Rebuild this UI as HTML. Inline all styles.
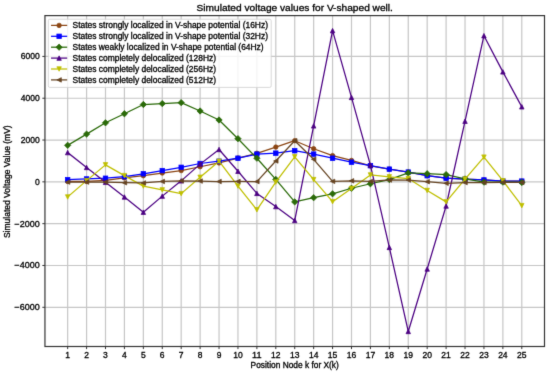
<!DOCTYPE html><html><head><meta charset="utf-8"><style>html,body{margin:0;padding:0;background:#fff;overflow:hidden}svg{display:block}text{font-family:"Liberation Sans",sans-serif;fill:#000}</style></head><body>
<svg width="550" height="373" viewBox="0 0 550 373">
<defs><filter id="bl" x="0" y="0" width="100%" height="100%" color-interpolation-filters="sRGB"><feConvolveMatrix order="3" kernelMatrix="0.0100 0.0800 0.0100 0.0800 0.6400 0.0800 0.0100 0.0800 0.0100" divisor="1" edgeMode="duplicate"/></filter></defs><g filter="url(#bl)">
<rect width="550" height="373" fill="#fff"/>
<path d="M67.66,15.60V346.50M86.58,15.60V346.50M105.50,15.60V346.50M124.42,15.60V346.50M143.35,15.60V346.50M162.27,15.60V346.50M181.19,15.60V346.50M200.11,15.60V346.50M219.04,15.60V346.50M237.96,15.60V346.50M256.88,15.60V346.50M275.80,15.60V346.50M294.73,15.60V346.50M313.65,15.60V346.50M332.57,15.60V346.50M351.49,15.60V346.50M370.41,15.60V346.50M389.34,15.60V346.50M408.26,15.60V346.50M427.18,15.60V346.50M446.10,15.60V346.50M465.03,15.60V346.50M483.95,15.60V346.50M502.87,15.60V346.50M521.79,15.60V346.50M44.95,307.30H544.50M44.95,265.48H544.50M44.95,223.67H544.50M44.95,181.85H544.50M44.95,140.04H544.50M44.95,98.23H544.50M44.95,56.41H544.50" stroke="#c6c6c6" stroke-width="1.2" fill="none"/>
<path d="M67.66,181.48L86.58,181.48L105.50,180.43L124.42,177.92L143.35,175.73L162.27,173.01L181.19,170.59L200.11,166.74L219.04,162.93L237.96,158.06L256.88,153.30L275.80,147.09L294.73,140.71L313.65,148.72L332.57,155.62L351.49,160.42L370.41,165.90L389.34,169.14L408.26,172.07L427.18,175.62L446.10,178.13L465.03,179.14L483.95,179.97L502.87,181.12L521.79,181.12" stroke="#8B4513" stroke-width="1.25" fill="none" stroke-linejoin="round" stroke-linecap="square"/>
<g fill="#8B4513" stroke="#8B4513" stroke-width="0.75"><circle cx="67.66" cy="181.48" r="2.23"/><circle cx="86.58" cy="181.48" r="2.23"/><circle cx="105.50" cy="180.43" r="2.23"/><circle cx="124.42" cy="177.92" r="2.23"/><circle cx="143.35" cy="175.73" r="2.23"/><circle cx="162.27" cy="173.01" r="2.23"/><circle cx="181.19" cy="170.59" r="2.23"/><circle cx="200.11" cy="166.74" r="2.23"/><circle cx="219.04" cy="162.93" r="2.23"/><circle cx="237.96" cy="158.06" r="2.23"/><circle cx="256.88" cy="153.30" r="2.23"/><circle cx="275.80" cy="147.09" r="2.23"/><circle cx="294.73" cy="140.71" r="2.23"/><circle cx="313.65" cy="148.72" r="2.23"/><circle cx="332.57" cy="155.62" r="2.23"/><circle cx="351.49" cy="160.42" r="2.23"/><circle cx="370.41" cy="165.90" r="2.23"/><circle cx="389.34" cy="169.14" r="2.23"/><circle cx="408.26" cy="172.07" r="2.23"/><circle cx="427.18" cy="175.62" r="2.23"/><circle cx="446.10" cy="178.13" r="2.23"/><circle cx="465.03" cy="179.14" r="2.23"/><circle cx="483.95" cy="179.97" r="2.23"/><circle cx="502.87" cy="181.12" r="2.23"/><circle cx="521.79" cy="181.12" r="2.23"/></g>
<path d="M67.66,179.70L86.58,178.97L105.50,178.24L124.42,176.69L143.35,173.78L162.27,170.59L181.19,167.30L200.11,163.50L219.04,161.20L237.96,158.21L256.88,154.09L275.80,153.15L294.73,150.74L313.65,154.09L332.57,158.21L351.49,162.20L370.41,165.69L389.34,169.14L408.26,172.07L427.18,175.73L446.10,178.13L465.03,179.14L483.95,179.97L502.87,181.12L521.79,181.12" stroke="#0000FF" stroke-width="1.25" fill="none" stroke-linejoin="round" stroke-linecap="square"/>
<g fill="#0000FF" stroke="#0000FF" stroke-width="0.75"><rect x="65.42" y="177.47" width="4.47" height="4.47"/><rect x="84.34" y="176.73" width="4.47" height="4.47"/><rect x="103.27" y="176.00" width="4.47" height="4.47"/><rect x="122.19" y="174.46" width="4.47" height="4.47"/><rect x="141.11" y="171.55" width="4.47" height="4.47"/><rect x="160.03" y="168.35" width="4.47" height="4.47"/><rect x="178.96" y="165.07" width="4.47" height="4.47"/><rect x="197.88" y="161.26" width="4.47" height="4.47"/><rect x="216.80" y="158.96" width="4.47" height="4.47"/><rect x="235.72" y="155.97" width="4.47" height="4.47"/><rect x="254.65" y="151.86" width="4.47" height="4.47"/><rect x="273.57" y="150.91" width="4.47" height="4.47"/><rect x="292.49" y="148.51" width="4.47" height="4.47"/><rect x="311.41" y="151.86" width="4.47" height="4.47"/><rect x="330.33" y="155.97" width="4.47" height="4.47"/><rect x="349.26" y="159.97" width="4.47" height="4.47"/><rect x="368.18" y="163.46" width="4.47" height="4.47"/><rect x="387.10" y="166.91" width="4.47" height="4.47"/><rect x="406.02" y="169.84" width="4.47" height="4.47"/><rect x="424.95" y="173.49" width="4.47" height="4.47"/><rect x="443.87" y="175.90" width="4.47" height="4.47"/><rect x="462.79" y="176.90" width="4.47" height="4.47"/><rect x="481.71" y="177.74" width="4.47" height="4.47"/><rect x="500.64" y="178.89" width="4.47" height="4.47"/><rect x="519.56" y="178.89" width="4.47" height="4.47"/></g>
<path d="M67.66,145.31L86.58,134.10L105.50,122.81L124.42,113.72L143.35,104.52L162.27,103.60L181.19,102.64L200.11,111.00L219.04,119.99L237.96,138.70L256.88,158.21L275.80,179.39L294.73,201.88L313.65,197.70L332.57,193.79L351.49,188.25L370.41,183.74L389.34,179.56L408.26,172.91L427.18,173.74L446.10,174.62L465.03,178.97L483.95,182.11L502.87,182.11L521.79,182.48" stroke="#2a6a08" stroke-width="1.25" fill="none" stroke-linejoin="round" stroke-linecap="square"/>
<g fill="#2a6a08" stroke="#2a6a08" stroke-width="0.75"><path d="M67.66,142.15L70.82,145.31L67.66,148.47L64.50,145.31Z"/><path d="M86.58,130.94L89.74,134.10L86.58,137.26L83.42,134.10Z"/><path d="M105.50,119.65L108.66,122.81L105.50,125.97L102.34,122.81Z"/><path d="M124.42,110.56L127.58,113.72L124.42,116.88L121.26,113.72Z"/><path d="M143.35,101.36L146.51,104.52L143.35,107.68L140.19,104.52Z"/><path d="M162.27,100.44L165.43,103.60L162.27,106.76L159.11,103.60Z"/><path d="M181.19,99.48L184.35,102.64L181.19,105.80L178.03,102.64Z"/><path d="M200.11,107.84L203.27,111.00L200.11,114.16L196.95,111.00Z"/><path d="M219.04,116.83L222.20,119.99L219.04,123.15L215.87,119.99Z"/><path d="M237.96,135.54L241.12,138.70L237.96,141.86L234.80,138.70Z"/><path d="M256.88,155.05L260.04,158.21L256.88,161.37L253.72,158.21Z"/><path d="M275.80,176.23L278.96,179.39L275.80,182.55L272.64,179.39Z"/><path d="M294.73,198.72L297.89,201.88L294.73,205.04L291.56,201.88Z"/><path d="M313.65,194.54L316.81,197.70L313.65,200.86L310.49,197.70Z"/><path d="M332.57,190.63L335.73,193.79L332.57,196.95L329.41,193.79Z"/><path d="M351.49,185.09L354.65,188.25L351.49,191.41L348.33,188.25Z"/><path d="M370.41,180.58L373.58,183.74L370.41,186.90L367.25,183.74Z"/><path d="M389.34,176.39L392.50,179.56L389.34,182.72L386.18,179.56Z"/><path d="M408.26,169.75L411.42,172.91L408.26,176.07L405.10,172.91Z"/><path d="M427.18,170.58L430.34,173.74L427.18,176.90L424.02,173.74Z"/><path d="M446.10,171.46L449.26,174.62L446.10,177.78L442.94,174.62Z"/><path d="M465.03,175.81L468.19,178.97L465.03,182.13L461.87,178.97Z"/><path d="M483.95,178.95L487.11,182.11L483.95,185.27L480.79,182.11Z"/><path d="M502.87,178.95L506.03,182.11L502.87,185.27L499.71,182.11Z"/><path d="M521.79,179.32L524.95,182.48L521.79,185.64L518.63,182.48Z"/></g>
<path d="M67.66,152.61L86.58,167.47L105.50,182.31L124.42,196.97L143.35,212.19L162.27,196.13L181.19,180.85L200.11,164.13L219.04,149.49L237.96,171.23L256.88,193.40L275.80,206.59L294.73,220.49L313.65,125.89L332.57,30.63L351.49,97.41L370.41,165.09L389.34,247.40L408.26,331.47L427.18,269.00L446.10,206.00L465.03,121.20L483.95,35.69L502.87,71.88L521.79,106.82" stroke="#4B0082" stroke-width="1.25" fill="none" stroke-linejoin="round" stroke-linecap="square"/>
<g fill="#4B0082" stroke="#4B0082" stroke-width="0.75"><path d="M67.66,150.37L69.89,154.84L65.42,154.84Z"/><path d="M86.58,165.24L88.81,169.71L84.34,169.71Z"/><path d="M105.50,180.08L107.74,184.55L103.27,184.55Z"/><path d="M124.42,194.74L126.66,199.21L122.19,199.21Z"/><path d="M143.35,209.96L145.58,214.43L141.11,214.43Z"/><path d="M162.27,193.90L164.50,198.37L160.03,198.37Z"/><path d="M181.19,178.62L183.43,183.09L178.96,183.09Z"/><path d="M200.11,161.89L202.35,166.36L197.88,166.36Z"/><path d="M219.04,147.26L221.27,151.73L216.80,151.73Z"/><path d="M237.96,169.00L240.19,173.47L235.72,173.47Z"/><path d="M256.88,191.16L259.12,195.63L254.65,195.63Z"/><path d="M275.80,204.35L278.04,208.82L273.57,208.82Z"/><path d="M294.73,218.26L296.96,222.73L292.49,222.73Z"/><path d="M313.65,123.65L315.88,128.12L311.41,128.12Z"/><path d="M332.57,28.40L334.80,32.87L330.33,32.87Z"/><path d="M351.49,95.18L353.73,99.65L349.26,99.65Z"/><path d="M370.41,162.85L372.65,167.32L368.18,167.32Z"/><path d="M389.34,245.16L391.57,249.63L387.10,249.63Z"/><path d="M408.26,329.23L410.49,333.70L406.02,333.70Z"/><path d="M427.18,266.76L429.42,271.23L424.95,271.23Z"/><path d="M446.10,203.77L448.34,208.24L443.87,208.24Z"/><path d="M465.03,118.97L467.26,123.44L462.79,123.44Z"/><path d="M483.95,33.46L486.18,37.93L481.71,37.93Z"/><path d="M502.87,69.65L505.11,74.12L500.64,74.12Z"/><path d="M521.79,104.58L524.03,109.05L519.56,109.05Z"/></g>
<path d="M67.66,196.97L86.58,180.64L105.50,164.86L124.42,175.62L143.35,186.08L162.27,189.88L181.19,193.63L200.11,177.30L219.04,161.20L237.96,186.08L256.88,209.85L275.80,182.11L294.73,156.81L313.65,179.60L332.57,201.65L351.49,188.52L370.41,174.96L389.34,176.84L408.26,178.51L427.18,190.49L446.10,201.88L465.03,179.03L483.95,157.12L502.87,180.73L521.79,205.65" stroke="#BFBF00" stroke-width="1.25" fill="none" stroke-linejoin="round" stroke-linecap="square"/>
<g fill="#BFBF00" stroke="#BFBF00" stroke-width="0.75"><path d="M67.66,199.21L69.89,194.74L65.42,194.74Z"/><path d="M86.58,182.88L88.81,178.41L84.34,178.41Z"/><path d="M105.50,167.09L107.74,162.62L103.27,162.62Z"/><path d="M124.42,177.86L126.66,173.39L122.19,173.39Z"/><path d="M143.35,188.31L145.58,183.84L141.11,183.84Z"/><path d="M162.27,192.12L164.50,187.65L160.03,187.65Z"/><path d="M181.19,195.86L183.43,191.39L178.96,191.39Z"/><path d="M200.11,179.53L202.35,175.06L197.88,175.06Z"/><path d="M219.04,163.43L221.27,158.96L216.80,158.96Z"/><path d="M237.96,188.31L240.19,183.84L235.72,183.84Z"/><path d="M256.88,212.08L259.12,207.61L254.65,207.61Z"/><path d="M275.80,184.34L278.04,179.87L273.57,179.87Z"/><path d="M294.73,159.04L296.96,154.57L292.49,154.57Z"/><path d="M313.65,181.83L315.88,177.36L311.41,177.36Z"/><path d="M332.57,203.89L334.80,199.42L330.33,199.42Z"/><path d="M351.49,190.76L353.73,186.29L349.26,186.29Z"/><path d="M370.41,177.19L372.65,172.72L368.18,172.72Z"/><path d="M389.34,179.07L391.57,174.60L387.10,174.60Z"/><path d="M408.26,180.74L410.49,176.27L406.02,176.27Z"/><path d="M427.18,192.72L429.42,188.25L424.95,188.25Z"/><path d="M446.10,204.12L448.34,199.65L443.87,199.65Z"/><path d="M465.03,181.27L467.26,176.80L462.79,176.80Z"/><path d="M483.95,159.36L486.18,154.89L481.71,154.89Z"/><path d="M502.87,182.96L505.11,178.49L500.64,178.49Z"/><path d="M521.79,207.88L524.03,203.41L519.56,203.41Z"/></g>
<path d="M67.66,182.11L86.58,182.11L105.50,182.11L124.42,182.73L143.35,182.94L162.27,181.48L181.19,180.85L200.11,181.06L219.04,181.52L237.96,181.48L256.88,181.58L275.80,160.99L294.73,140.71L313.65,159.30L332.57,181.37L351.49,180.85L370.41,181.39L389.34,179.99L408.26,180.02L427.18,181.69L446.10,183.26L465.03,182.59L483.95,182.52L502.87,182.31L521.79,182.48" stroke="#654321" stroke-width="1.25" fill="none" stroke-linejoin="round" stroke-linecap="square"/>
<g fill="#654321" stroke="#654321" stroke-width="0.75"><path d="M65.42,182.11L69.89,179.87L69.89,184.34Z"/><path d="M84.34,182.11L88.81,179.87L88.81,184.34Z"/><path d="M103.27,182.11L107.74,179.87L107.74,184.34Z"/><path d="M122.19,182.73L126.66,180.50L126.66,184.97Z"/><path d="M141.11,182.94L145.58,180.71L145.58,185.18Z"/><path d="M160.03,181.48L164.50,179.24L164.50,183.71Z"/><path d="M178.96,180.85L183.43,178.62L183.43,183.09Z"/><path d="M197.88,181.06L202.35,178.83L202.35,183.30Z"/><path d="M216.80,181.52L221.27,179.29L221.27,183.76Z"/><path d="M235.72,181.48L240.19,179.24L240.19,183.71Z"/><path d="M254.65,181.58L259.12,179.35L259.12,183.82Z"/><path d="M273.57,160.99L278.04,158.75L278.04,163.22Z"/><path d="M292.49,140.71L296.96,138.47L296.96,142.94Z"/><path d="M311.41,159.30L315.88,157.06L315.88,161.53Z"/><path d="M330.33,181.37L334.80,179.14L334.80,183.61Z"/><path d="M349.26,180.85L353.73,178.62L353.73,183.09Z"/><path d="M368.18,181.39L372.65,179.16L372.65,183.63Z"/><path d="M387.10,179.99L391.57,177.76L391.57,182.23Z"/><path d="M406.02,180.02L410.49,177.78L410.49,182.25Z"/><path d="M424.95,181.69L429.42,179.45L429.42,183.92Z"/><path d="M443.87,183.26L448.34,181.02L448.34,185.49Z"/><path d="M462.79,182.59L467.26,180.35L467.26,184.82Z"/><path d="M481.71,182.52L486.18,180.29L486.18,184.76Z"/><path d="M500.64,182.31L505.11,180.08L505.11,184.55Z"/><path d="M519.56,182.48L524.03,180.25L524.03,184.72Z"/></g>
<rect x="44.95" y="15.60" width="499.55" height="330.90" fill="none" stroke="#333" stroke-width="1.2"/>
<path d="M67.66,346.50v2.6M86.58,346.50v2.6M105.50,346.50v2.6M124.42,346.50v2.6M143.35,346.50v2.6M162.27,346.50v2.6M181.19,346.50v2.6M200.11,346.50v2.6M219.04,346.50v2.6M237.96,346.50v2.6M256.88,346.50v2.6M275.80,346.50v2.6M294.73,346.50v2.6M313.65,346.50v2.6M332.57,346.50v2.6M351.49,346.50v2.6M370.41,346.50v2.6M389.34,346.50v2.6M408.26,346.50v2.6M427.18,346.50v2.6M446.10,346.50v2.6M465.03,346.50v2.6M483.95,346.50v2.6M502.87,346.50v2.6M521.79,346.50v2.6M44.95,307.30h-2.6M44.95,265.48h-2.6M44.95,223.67h-2.6M44.95,181.85h-2.6M44.95,140.04h-2.6M44.95,98.23h-2.6M44.95,56.41h-2.6" stroke="#333" stroke-width="1.0"/>
<g style="will-change:transform" stroke="#000" stroke-width="0.3">
<text x="65.28" y="357.71" font-size="8.2" text-anchor="start" textLength="4.75" lengthAdjust="spacingAndGlyphs">1</text>
<text x="84.20" y="357.71" font-size="8.2" text-anchor="start" textLength="4.75" lengthAdjust="spacingAndGlyphs">2</text>
<text x="103.13" y="357.71" font-size="8.2" text-anchor="start" textLength="4.75" lengthAdjust="spacingAndGlyphs">3</text>
<text x="122.08" y="357.71" font-size="8.2" text-anchor="start" textLength="4.69" lengthAdjust="spacingAndGlyphs">4</text>
<text x="140.97" y="357.71" font-size="8.2" text-anchor="start" textLength="4.75" lengthAdjust="spacingAndGlyphs">5</text>
<text x="159.89" y="357.71" font-size="8.2" text-anchor="start" textLength="4.75" lengthAdjust="spacingAndGlyphs">6</text>
<text x="178.82" y="357.71" font-size="8.2" text-anchor="start" textLength="4.75" lengthAdjust="spacingAndGlyphs">7</text>
<text x="197.77" y="357.71" font-size="8.2" text-anchor="start" textLength="4.69" lengthAdjust="spacingAndGlyphs">8</text>
<text x="216.69" y="357.71" font-size="8.2" text-anchor="start" textLength="4.69" lengthAdjust="spacingAndGlyphs">9</text>
<text x="233.21" y="357.71" font-size="8.2" text-anchor="start" textLength="9.50" lengthAdjust="spacingAndGlyphs">10</text>
<text x="252.13" y="357.71" font-size="8.2" text-anchor="start" textLength="9.50" lengthAdjust="spacingAndGlyphs">11</text>
<text x="271.05" y="357.71" font-size="8.2" text-anchor="start" textLength="9.50" lengthAdjust="spacingAndGlyphs">12</text>
<text x="289.98" y="357.71" font-size="8.2" text-anchor="start" textLength="9.50" lengthAdjust="spacingAndGlyphs">13</text>
<text x="308.93" y="357.71" font-size="8.2" text-anchor="start" textLength="9.44" lengthAdjust="spacingAndGlyphs">14</text>
<text x="327.82" y="357.71" font-size="8.2" text-anchor="start" textLength="9.50" lengthAdjust="spacingAndGlyphs">15</text>
<text x="346.74" y="357.71" font-size="8.2" text-anchor="start" textLength="9.50" lengthAdjust="spacingAndGlyphs">16</text>
<text x="365.66" y="357.71" font-size="8.2" text-anchor="start" textLength="9.50" lengthAdjust="spacingAndGlyphs">17</text>
<text x="384.62" y="357.71" font-size="8.2" text-anchor="start" textLength="9.44" lengthAdjust="spacingAndGlyphs">18</text>
<text x="403.54" y="357.71" font-size="8.2" text-anchor="start" textLength="9.44" lengthAdjust="spacingAndGlyphs">19</text>
<text x="422.43" y="357.71" font-size="8.2" text-anchor="start" textLength="9.50" lengthAdjust="spacingAndGlyphs">20</text>
<text x="441.35" y="357.71" font-size="8.2" text-anchor="start" textLength="9.50" lengthAdjust="spacingAndGlyphs">21</text>
<text x="460.28" y="357.71" font-size="8.2" text-anchor="start" textLength="9.50" lengthAdjust="spacingAndGlyphs">22</text>
<text x="479.20" y="357.71" font-size="8.2" text-anchor="start" textLength="9.50" lengthAdjust="spacingAndGlyphs">23</text>
<text x="498.15" y="357.71" font-size="8.2" text-anchor="start" textLength="9.44" lengthAdjust="spacingAndGlyphs">24</text>
<text x="517.04" y="357.71" font-size="8.2" text-anchor="start" textLength="9.50" lengthAdjust="spacingAndGlyphs">25</text>
<text x="14.48" y="310.30" font-size="8.2" text-anchor="start" textLength="25.25" lengthAdjust="spacingAndGlyphs">−6000</text>
<text x="14.55" y="268.48" font-size="8.2" text-anchor="start" textLength="25.19" lengthAdjust="spacingAndGlyphs">−4000</text>
<text x="14.48" y="226.67" font-size="8.2" text-anchor="start" textLength="25.25" lengthAdjust="spacingAndGlyphs">−2000</text>
<text x="34.98" y="184.85" font-size="8.2" text-anchor="start" textLength="4.75" lengthAdjust="spacingAndGlyphs">0</text>
<text x="20.73" y="143.04" font-size="8.2" text-anchor="start" textLength="19.00" lengthAdjust="spacingAndGlyphs">2000</text>
<text x="20.80" y="101.23" font-size="8.2" text-anchor="start" textLength="18.94" lengthAdjust="spacingAndGlyphs">4000</text>
<text x="20.73" y="59.41" font-size="8.2" text-anchor="start" textLength="19.00" lengthAdjust="spacingAndGlyphs">6000</text>
<text x="196.51" y="11.13" font-size="9.4" text-anchor="start" textLength="196.44" lengthAdjust="spacingAndGlyphs">Simulated voltage values for V-shaped well.</text>
<text x="250.63" y="368.19" font-size="8.2" text-anchor="start" textLength="88.19" lengthAdjust="spacingAndGlyphs">Position Node k for X(k)</text>
<text transform="translate(10.01,181.70) rotate(-90)" x="0" y="0" font-size="8.2" text-anchor="middle" textLength="112.80" lengthAdjust="spacingAndGlyphs">Simulated Voltage Value (mV)</text>
</g>
<rect x="48.3" y="19.2" width="222.90" height="68.20" rx="1.5" fill="#fff" fill-opacity="0.8" stroke="#cccccc" stroke-width="0.75"/>
<g style="will-change:transform" stroke="#000" stroke-width="0.3">
<text x="72.52" y="28.20" font-size="8.2" text-anchor="start" textLength="195.50" lengthAdjust="spacingAndGlyphs">States strongly localized in V-shape potential (16Hz)</text>
<text x="72.52" y="39.10" font-size="8.2" text-anchor="start" textLength="195.50" lengthAdjust="spacingAndGlyphs">States strongly localized in V-shape potential (32Hz)</text>
<text x="72.52" y="50.00" font-size="8.2" text-anchor="start" textLength="191.12" lengthAdjust="spacingAndGlyphs">States weakly localized in V-shape potential (64Hz)</text>
<text x="72.52" y="60.90" font-size="8.2" text-anchor="start" textLength="143.50" lengthAdjust="spacingAndGlyphs">States completely delocalized (128Hz)</text>
<text x="72.52" y="71.80" font-size="8.2" text-anchor="start" textLength="143.56" lengthAdjust="spacingAndGlyphs">States completely delocalized (256Hz)</text>
<text x="72.52" y="82.70" font-size="8.2" text-anchor="start" textLength="143.56" lengthAdjust="spacingAndGlyphs">States completely delocalized (512Hz)</text>
</g>
<path d="M51.66,25.40H66.56" stroke="#8B4513" stroke-width="1.25" stroke-linecap="square"/>
<g fill="#8B4513" stroke="#8B4513" stroke-width="0.75"><circle cx="59.11" cy="25.40" r="2.23"/></g>
<path d="M51.66,36.30H66.56" stroke="#0000FF" stroke-width="1.25" stroke-linecap="square"/>
<g fill="#0000FF" stroke="#0000FF" stroke-width="0.75"><rect x="56.87" y="34.06" width="4.47" height="4.47"/></g>
<path d="M51.66,47.20H66.56" stroke="#2a6a08" stroke-width="1.25" stroke-linecap="square"/>
<g fill="#2a6a08" stroke="#2a6a08" stroke-width="0.75"><path d="M59.11,44.04L62.27,47.20L59.11,50.36L55.94,47.20Z"/></g>
<path d="M51.66,58.10H66.56" stroke="#4B0082" stroke-width="1.25" stroke-linecap="square"/>
<g fill="#4B0082" stroke="#4B0082" stroke-width="0.75"><path d="M59.11,55.87L61.34,60.34L56.87,60.34Z"/></g>
<path d="M51.66,69.00H66.56" stroke="#BFBF00" stroke-width="1.25" stroke-linecap="square"/>
<g fill="#BFBF00" stroke="#BFBF00" stroke-width="0.75"><path d="M59.11,71.23L61.34,66.77L56.87,66.77Z"/></g>
<path d="M51.66,79.90H66.56" stroke="#654321" stroke-width="1.25" stroke-linecap="square"/>
<g fill="#654321" stroke="#654321" stroke-width="0.75"><path d="M56.87,79.90L61.34,77.67L61.34,82.14Z"/></g>
</g>
</svg></body></html>
